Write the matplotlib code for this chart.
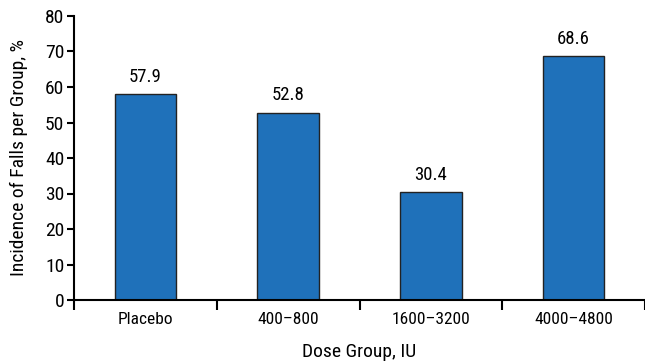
import matplotlib
matplotlib.use("Agg")
from matplotlib import pyplot as plt
from matplotlib import font_manager

groups = ["Placebo", "400–800", "1600–3200", "4000–4800"]
falls = [57.9, 52.8, 30.4, 68.6]
yticks = [0, 10, 20, 30, 40, 50, 60, 70, 80]

# look for a narrow sans font, like the Helvetica Condensed of the original
names = {f.name for f in font_manager.fontManager.ttflist}
stretch = {(f.name, f.stretch) for f in font_manager.fontManager.ttflist}
font = "Liberation Sans"
fstretch = "normal"
for cand in ["Liberation Sans Narrow", "Roboto Condensed", "Open Sans Condensed", "Noto Sans Condensed"]:
    if cand in names:
        font = cand
        break
else:
    for fam in ["Roboto", "Noto Sans", "DejaVu Sans", "Open Sans"]:
        if (fam, "condensed") in stretch or (fam, 375) in stretch:
            font = fam
            fstretch = "condensed"
            break
plt.rcParams['font.family'] = [font, 'DejaVu Sans']
plt.rcParams['font.stretch'] = fstretch

fig = plt.figure(figsize=(6.45, 3.62), dpi=100)
ax = fig.add_axes([74/645, 62/362, 571/645, 284/362])

x = range(len(groups))
bars = ax.bar(x, falls, width=0.43, color="#1f71ba", edgecolor="#222222", linewidth=1)
for b, v in zip(bars, falls):
    ax.text(b.get_x() + b.get_width()/2, v + 2.3, f"{v}", ha="center", va="bottom", fontsize=13.5)

ax.set_xlim(-0.5, len(groups) - 0.5)
ax.set_ylim(0, 80)
ax.set_yticks(yticks)
ax.set_xticks([i - 0.5 for i in range(len(groups) + 1)])
ax.set_xticklabels([])
ax.set_xticks(list(x), minor=True)
ax.set_xticklabels(groups, minor=True, fontsize=12.5)
ax.tick_params(axis="x", which="minor", length=0, pad=9)
ax.tick_params(axis="x", which="major", length=7, width=1.5)
ax.tick_params(axis="y", length=5, width=1.5, labelsize=14, pad=2)

for s in ["top", "right"]:
    ax.spines[s].set_visible(False)
for s in ["left", "bottom"]:
    ax.spines[s].set_linewidth(1.5)

ax.set_xlabel("Dose Group, IU", fontsize=14, labelpad=11)
ax.set_ylabel("Incidence of Falls per Group, %", fontsize=14, labelpad=12)

plt.savefig("out.png")
